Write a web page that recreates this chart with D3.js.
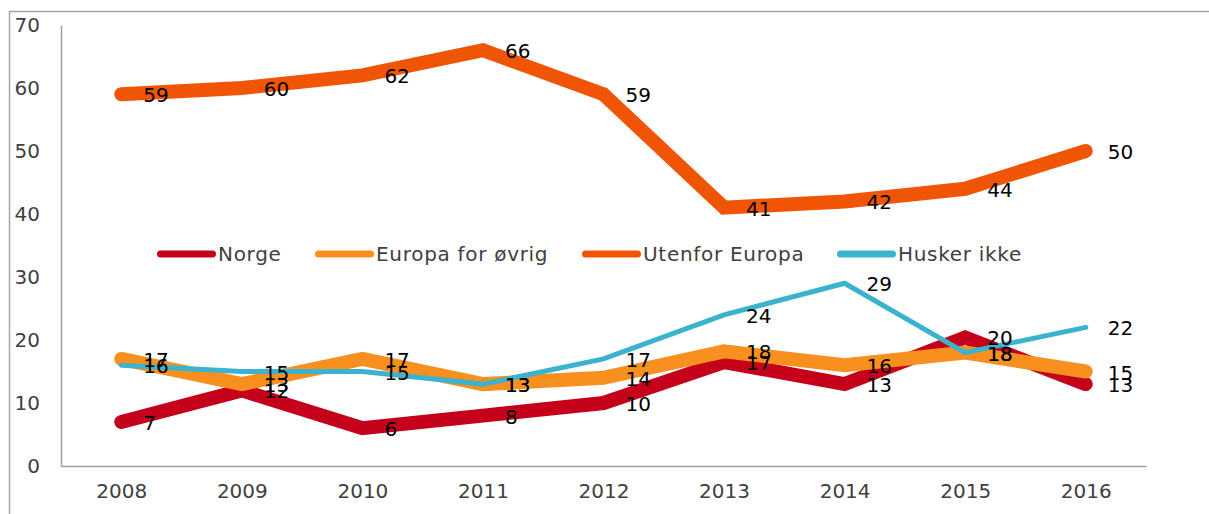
<!DOCTYPE html>
<html><head><meta charset="utf-8">
<script src="https://cdn.jsdelivr.net/npm/d3@7"></script>
<style>
html,body{margin:0;padding:0;background:#fff;}
svg{display:block;font-family:"DejaVu Sans",Verdana,sans-serif;}
</style></head>
<body>
<svg id="chart" width="1209" height="514"></svg>
<script>
const years = ["2008","2009","2010","2011","2012","2013","2014","2015","2016"];
const seriesNames = ["Norge","Europa for øvrig","Utenfor Europa","Husker ikke"];
const norge = [7, 12, 6, 8, 10, 16.5, 13, 20.4, 13];
const europa = [17, 13, 17, 13, 14, 18.2, 16, 18, 15];
const utenfor = [59, 60, 62, 66, 59, 41, 42, 44, 50];
const husker = [16, 15, 15, 13, 17, 24, 29, 18, 22];
const yTicks = [0, 10, 20, 30, 40, 50, 60, 70];
const colors = ["#C4001A", "#F7901E", "#F05505", "#3BB3CE"];
const widths = [14, 14, 14, 5];

const series = [norge, europa, utenfor, husker].map((v, i) => ({name: seriesNames[i], values: v, color: colors[i], width: widths[i]}));

const svg = d3.select("#chart");
const plotLeft = 61, plotRight = 1146, plotTop = 25, plotBottom = 466;

// outer frame (cropped)
svg.append("path").attr("d", "M9.5,520 V11.5 H1215")
  .attr("fill", "none").attr("stroke", "#a6a6a6").attr("stroke-width", 1.5);

const x = d3.scalePoint().domain(years).range([plotLeft, plotRight]).padding(0.5);
const y = d3.scaleLinear().domain([0, 70]).range([plotBottom, plotTop]);

// axes
const yAxis = svg.append("g").attr("transform", `translate(${plotLeft},0)`)
  .call(d3.axisLeft(y).tickValues(yTicks).tickSize(0).tickPadding(21));
yAxis.select(".domain").attr("stroke", "#a0a0a0").attr("stroke-width", 1.5);
yAxis.selectAll("text").attr("font-size", 20).attr("fill", "#404040")
  .attr("font-family", "DejaVu Sans, sans-serif");

const xAxis = svg.append("g").attr("transform", `translate(0,${plotBottom})`)
  .call(d3.axisBottom(x).tickSize(0).tickPadding(18));
xAxis.select(".domain").attr("stroke", "#a0a0a0").attr("stroke-width", 1.5);
xAxis.selectAll("text").attr("font-size", 20).attr("fill", "#404040")
  .attr("font-family", "DejaVu Sans, sans-serif");

// lines
const line = d3.line().x((d, i) => x(years[i])).y(d => y(d));
svg.append("g").selectAll("path").data(series).join("path")
  .attr("d", d => line(d.values))
  .attr("fill", "none")
  .attr("stroke", d => d.color)
  .attr("stroke-width", d => d.width)
  .attr("stroke-linecap", "round")
  .attr("stroke-linejoin", "miter")
  .attr("stroke-miterlimit", 2);

// data labels
const lab = svg.append("g");
series.forEach(s => {
  lab.append("g").selectAll("text").data(s.values).join("text")
    .attr("x", (d, i) => x(years[i]) + 22)
    .attr("y", d => y(d) + 1)
    .attr("dominant-baseline", "central")
    .attr("font-size", 20)
    .attr("fill", "#000")
    .text(d => Math.round(d));
});

// legend
const legendX = [157, 315, 582, 837];
const legendY = 254;
const lg = svg.append("g").selectAll("g").data(series).join("g")
  .attr("transform", (d, i) => `translate(${legendX[i]},${legendY})`);
lg.append("line").attr("x1", 3.5).attr("x2", 55.5).attr("y1", 0).attr("y2", 0)
  .attr("stroke", d => d.color).attr("stroke-width", 7).attr("stroke-linecap", "round");
lg.append("text").attr("x", 61).attr("y", 0).attr("dominant-baseline", "central")
  .attr("font-size", 20).attr("letter-spacing", "0.7px").attr("fill", "#404040").text(d => d.name);
</script>
</body></html>
